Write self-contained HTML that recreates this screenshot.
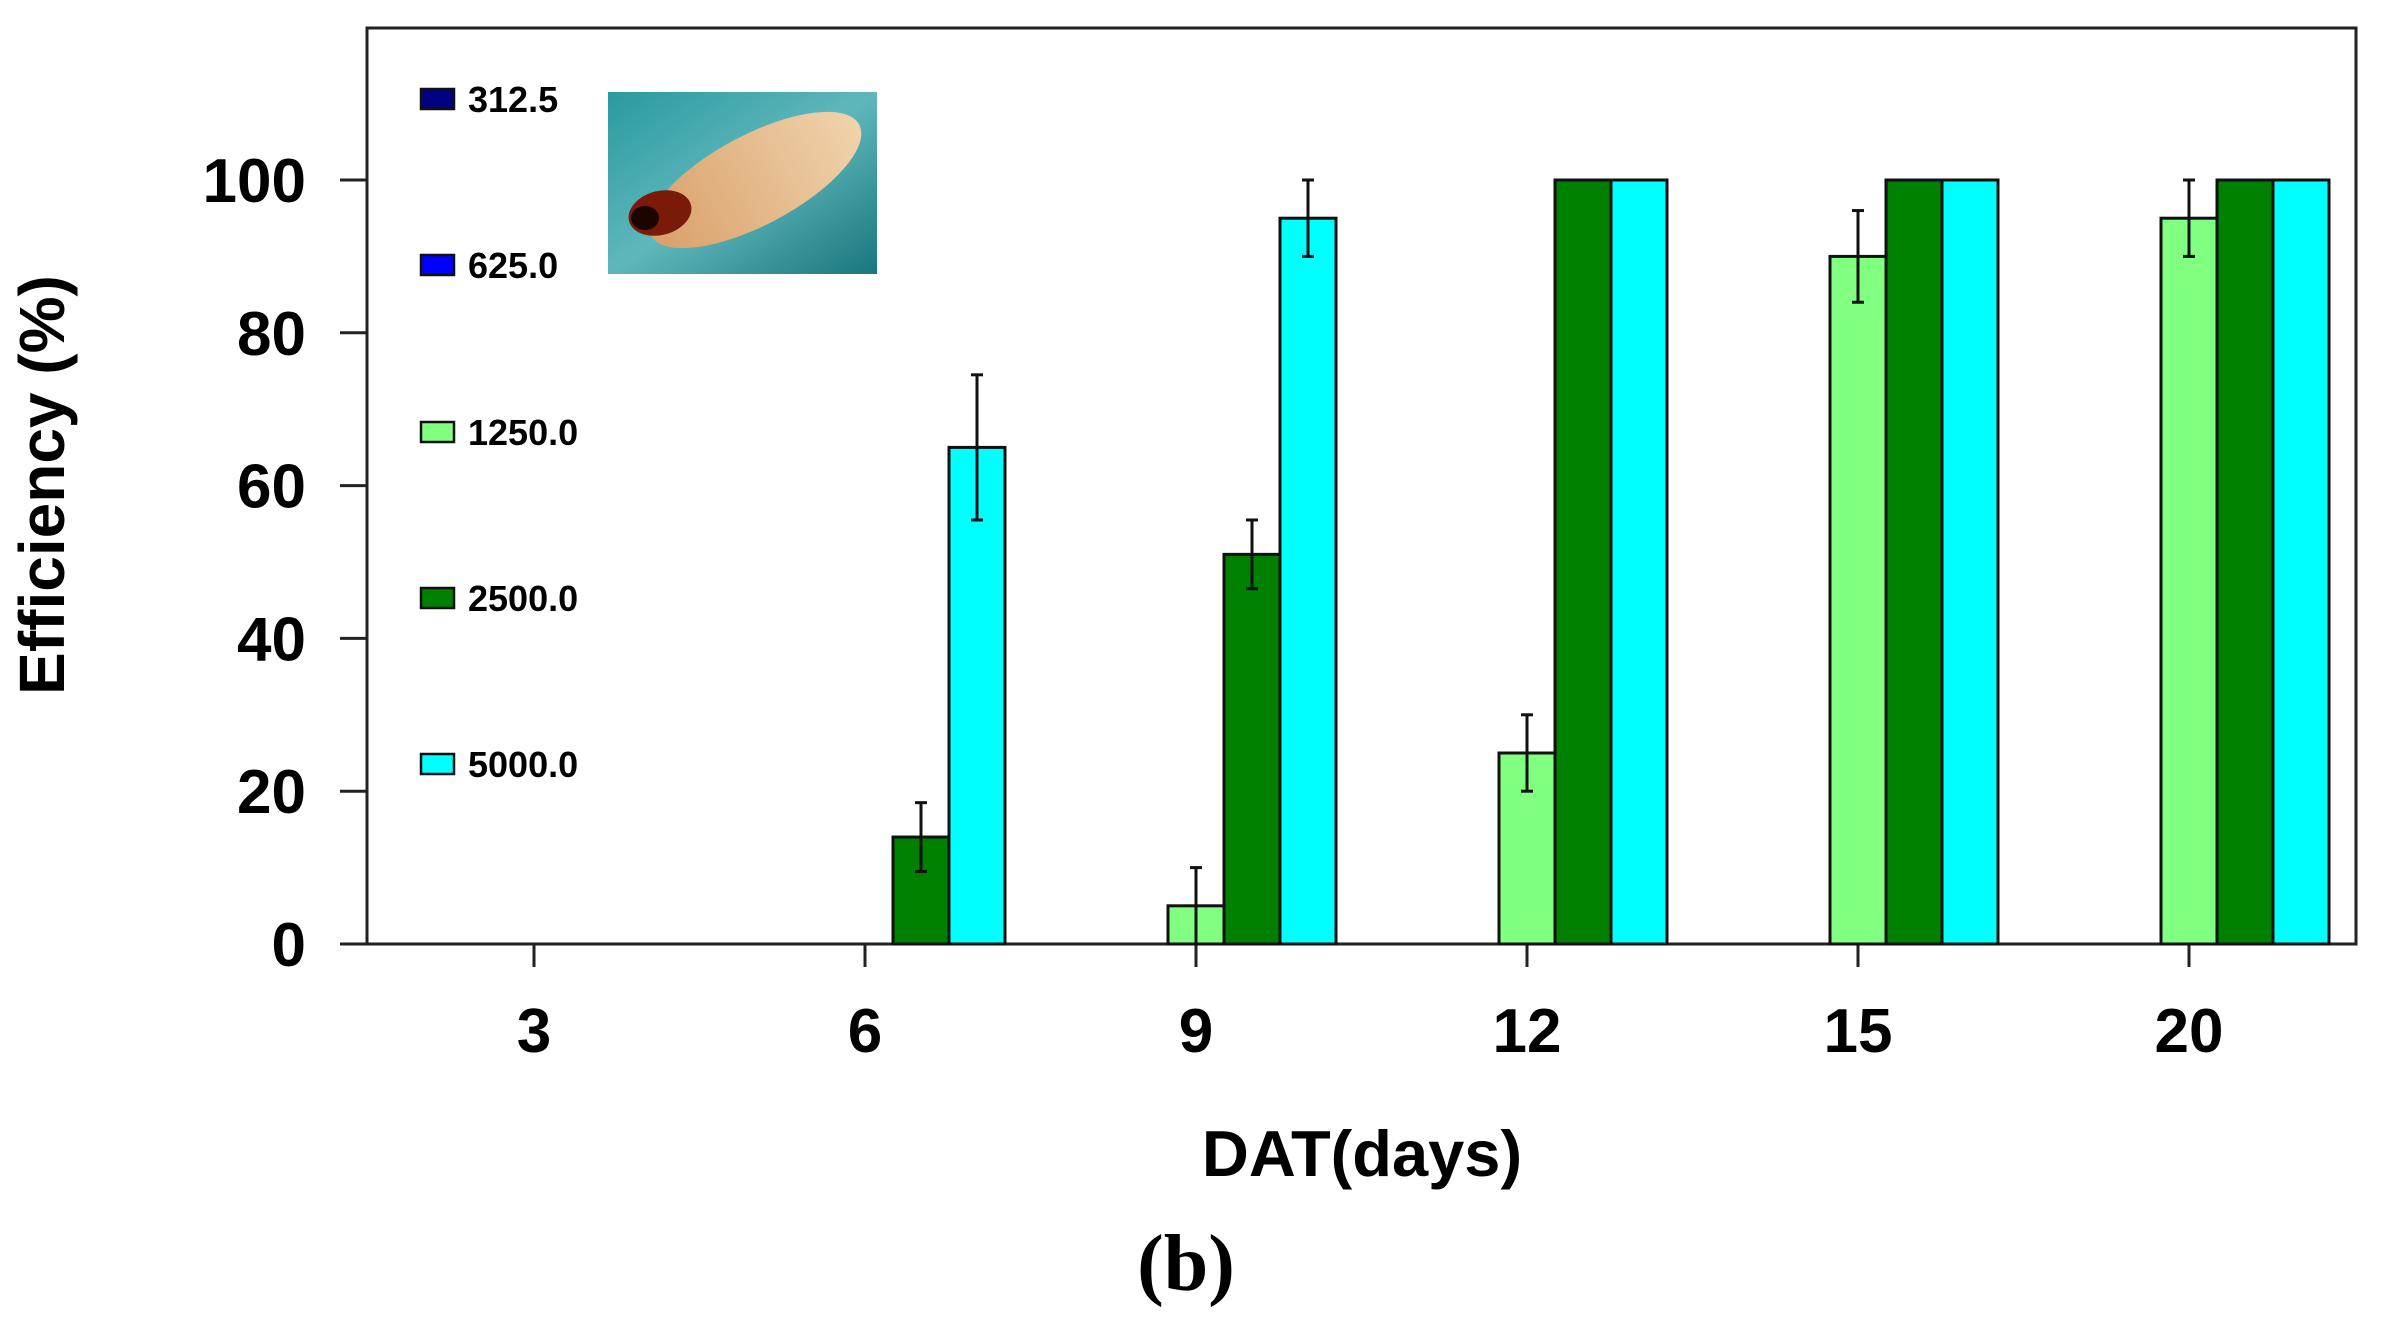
<!DOCTYPE html>
<html><head><meta charset="utf-8"><style>
body{margin:0;background:#fff;width:2389px;height:1326px;overflow:hidden}
svg text{font-family:"Liberation Sans",Arial,sans-serif;font-weight:bold}
</style></head><body>
<svg id="chart" width="2389" height="1326" viewBox="0 0 2389 1326" xmlns="http://www.w3.org/2000/svg">
<defs>
<linearGradient id="bg" x1="0" y1="0" x2="1" y2="1"><stop offset="0" stop-color="#2a9aa0"/><stop offset="0.5" stop-color="#5fb7bb"/><stop offset="1" stop-color="#18767c"/></linearGradient>
<linearGradient id="body" x1="0" y1="0" x2="1" y2="0"><stop offset="0" stop-color="#d9a06a"/><stop offset="1" stop-color="#f0d3ac"/></linearGradient>
</defs>
<rect x="367" y="28" width="1989" height="916" fill="none" stroke="#222" stroke-width="3"/>
<g>
<rect x="608" y="92" width="269" height="182" fill="url(#bg)"/>
<ellipse cx="755" cy="180" rx="118" ry="45" transform="rotate(-28 755 180)" fill="url(#body)"/>
<ellipse cx="660" cy="213" rx="32" ry="22" transform="rotate(-15 660 213)" fill="#7a1a08"/>
<ellipse cx="645" cy="218" rx="14" ry="12" fill="#1a0500"/>
</g>
<g id="axes"></g>
<g id="bars"></g>
<g id="legend"></g>
<text transform="translate(64,485) rotate(-90)" text-anchor="middle" font-size="64">Efficiency (%)</text>
<text x="1362" y="1176" text-anchor="middle" font-size="65">DAT(days)</text>
<text x="1186" y="1290" text-anchor="middle" font-size="80" style="font-family:'Liberation Serif',serif;font-weight:bold">(b)</text>
</svg>
<script>
const categories = ["3","6","9","12","15","20"];
const seriesNames = ["312.5","625.0","1250.0","2500.0","5000.0"];
const seriesColors = ["#000080","#0000ff","#80ff80","#008000","#00ffff"];
const s312 = [0,0,0,0,0,0];
const s625 = [0,0,0,0,0,0];
const s1250 = [0,0,5,25,90,95];
const s2500 = [0,14,51,100,100,100];
const s5000 = [0,65,95,100,100,100];
const e1250 = [0,0,5,5,6,5];
const e2500 = [0,4.5,4.5,0,0,0];
const e5000 = [0,9.5,5,0,0,0];
const yTicks = [0,20,40,60,80,100];

const values = [s312,s625,s1250,s2500,s5000];
const NS="http://www.w3.org/2000/svg";
const y0=944, yPer=(944-180)/100;
const yScale=v=>y0-v*yPer;
const xScale=i=>534+i*331;
const barW=56;
function mk(tag,attrs,parent){const e=document.createElementNS(NS,tag);for(const k in attrs)e.setAttribute(k,attrs[k]);parent.appendChild(e);return e;}
const axes=document.getElementById('axes'),bars=document.getElementById('bars'),legend=document.getElementById('legend');
mk('line',{x1:340,y1:y0,x2:2356,y2:y0,stroke:'#222','stroke-width':3},axes);
yTicks.forEach(t=>{
  const l=mk('line',{x1:340,x2:367,y1:yScale(t),y2:yScale(t),stroke:'#222','stroke-width':3},axes);
  
  
  const tx=mk('text',{x:306,y:yScale(t)+22,'text-anchor':'end','font-size':62},axes);
  tx.textContent=t;
  
  
});
categories.forEach((c,i)=>{
  const l=mk('line',{x1:xScale(i),x2:xScale(i),y1:y0,y2:967,stroke:'#222','stroke-width':3},axes);
  
  
  const tx=mk('text',{x:xScale(i),y:1052,'text-anchor':'middle','font-size':62},axes);
  tx.textContent=c;
  
  
});
values.forEach((arr,si)=>{
  arr.forEach((v,i)=>{
    if(v<=0) return;
    const x=xScale(i)+(si-2)*barW-barW/2;
    const r=mk('rect',{x:x,y:yScale(v),width:barW,height:y0-yScale(v),fill:seriesColors[si],stroke:'#111','stroke-width':3},bars);
    
    
    let eu=0,ed=0;
    if(si===2){eu=e1250[i];ed=Math.min(e1250[i],v);}
    if(si===3){eu=e2500[i];ed=e2500[i];}
    if(si===4){eu=e5000[i];ed=e5000[i];}
    if(eu>0){
      const cx=x+barW/2;
      const g=mk('g',{stroke:'#111','stroke-width':3},bars);
      
      
      mk('line',{x1:cx,x2:cx,y1:yScale(v+eu),y2:yScale(v-ed)},g);
      mk('line',{x1:cx-6,x2:cx+6,y1:yScale(v+eu),y2:yScale(v+eu)},g);
      mk('line',{x1:cx-6,x2:cx+6,y1:yScale(v-ed),y2:yScale(v-ed)},g);
    }
  });
});
const legY=[99,265,432,598,764];
seriesNames.forEach((n,si)=>{
  const g=mk('g',{},legend);
  
  
  mk('rect',{x:421,y:legY[si]-10,width:33,height:20,fill:seriesColors[si],stroke:'#111','stroke-width':2.5},g);
  const t=mk('text',{x:468,y:legY[si]+13,'font-size':36},g);
  t.textContent=n;
});
</script>
</body></html>
